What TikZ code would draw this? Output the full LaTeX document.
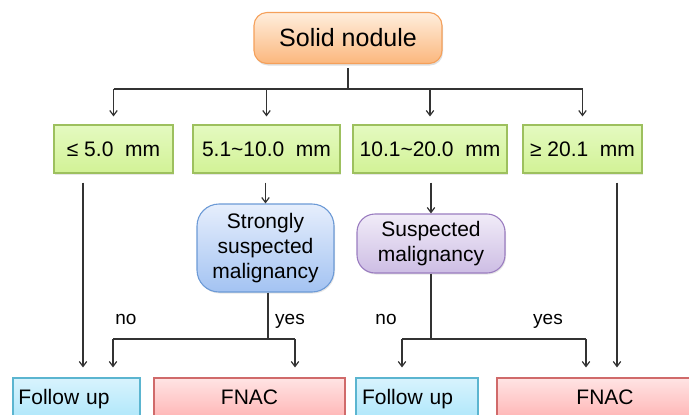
\documentclass[tikz,border=0pt]{standalone}
\usepackage{fontspec}
\setmainfont{Liberation Sans}
\usetikzlibrary{arrows.meta,shadows}
\definecolor{linec}{HTML}{333333}
\definecolor{orbd}{HTML}{F5A05A}
\definecolor{ortop}{HTML}{FFEEDD}
\definecolor{orbot}{HTML}{FBB77D}
\definecolor{grbd}{HTML}{9DC05E}
\definecolor{grtop}{HTML}{E4FAC0}
\definecolor{grbot}{HTML}{D2F296}
\definecolor{blbd}{HTML}{6C9AD6}
\definecolor{bltop}{HTML}{E6EEFC}
\definecolor{blbot}{HTML}{A3C3F2}
\definecolor{pubd}{HTML}{9A7CC0}
\definecolor{putop}{HTML}{F1ECF8}
\definecolor{pubot}{HTML}{CDBDE4}
\definecolor{cybd}{HTML}{5BB5D0}
\definecolor{cytop}{HTML}{D8F3FD}
\definecolor{cybot}{HTML}{B2E8FB}
\definecolor{rdbd}{HTML}{D06A6A}
\definecolor{rdtop}{HTML}{FFE4E4}
\definecolor{rdbot}{HTML}{FFB8B8}
\tikzset{
  base/.style={draw, line width=1.1bp, inner sep=0pt, text=black, font=\fontsize{21bp}{24bp}\selectfont},
  orbox/.style={base, draw=orbd, top color=ortop, bottom color=orbot, rounded corners=13bp,
     minimum width=188bp, minimum height=51bp, font=\fontsize{25bp}{28bp}\selectfont,
     drop shadow={shadow xshift=1bp, shadow yshift=-2bp, opacity=0.25}},
  grbox/.style={base, draw=grbd, top color=grtop, bottom color=grbot, minimum height=48bp,
     drop shadow={shadow xshift=1bp, shadow yshift=-1.5bp, opacity=0.2}},
  blbox/.style={base, draw=blbd, top color=bltop, bottom color=blbot, rounded corners=22bp,
     minimum width=137bp, minimum height=88bp, align=center,
     font=\fontsize{21bp}{25bp}\selectfont,
     drop shadow={shadow xshift=1bp, shadow yshift=-1.5bp, opacity=0.2}},
  pubox/.style={base, draw=pubd, top color=putop, bottom color=pubot, rounded corners=18bp,
     minimum width=148bp, minimum height=59bp, align=center,
     font=\fontsize{21bp}{25bp}\selectfont,
     drop shadow={shadow xshift=1bp, shadow yshift=-1.5bp, opacity=0.2}},
  cybox/.style={base, draw=cybd, top color=cytop, bottom color=cybot, minimum height=38bp, text depth=0pt},
  rdbox/.style={base, draw=rdbd, top color=rdtop, bottom color=rdbot, minimum height=38bp},
  conn/.style={draw=linec, line width=1.3bp},
  arr/.style={conn, -{Straight Barb[length=5bp,width=7.5bp,line width=1.2bp]}},
  lbl/.style={font=\fontsize{19bp}{22bp}\selectfont, inner sep=0pt, anchor=base}
}
\begin{document}
\begin{tikzpicture}[x=1bp,y=-1bp]
\useasboundingbox (0,0) rectangle (689,414);
% nodes
\node[orbox] (solid) at (348,38) {Solid nodule};
\node[grbox, minimum width=119bp] (g1) at (113.5,149) {≤ 5.0 \ mm};
\node[grbox, minimum width=147bp] (g2) at (266.5,149) {5.1\textasciitilde10.0 \ mm};
\node[grbox, minimum width=154bp] (g3) at (430,149) {10.1\textasciitilde20.0 \ mm};
\node[grbox, minimum width=119bp] (g4) at (582.5,149) {≥ 20.1 \ mm};
\node[blbox] (strong) at (265.5,248) {Strongly\\suspected\\malignancy};
\node[pubox] (susp) at (431,243.5) {Suspected\\malignancy};
\node[cybox, minimum width=127bp, text width=116bp, align=left] (fu1) at (76.5,397) {Follow up};
\node[rdbox, minimum width=191bp] (fn1) at (249.5,397) {FNAC};
\node[cybox, minimum width=122bp, text width=110bp, align=left] (fu2) at (417,397) {Follow up};
\node[rdbox, minimum width=216bp] (fn2) at (605,397) {FNAC};
% coordinates
\coordinate (hub) at (348,89);
\coordinate (x1) at (83,0);
\coordinate (x4) at (617,0);
\coordinate (s1) at (268,339);
\coordinate (s2) at (431,339);
\coordinate (ya) at (113,0);
\coordinate (yb) at (295,0);
\coordinate (yc) at (402,0);
\coordinate (yd) at (586,0);
% top distribution
\draw[conn] ([yshift=-4bp]solid.south) -- (hub);
\draw[conn] (hub -| g1.north) -- (hub -| g4.north);
\foreach \g in {g1,g2,g3,g4}{
  \draw[arr, shorten >=8bp] (hub -| \g.north) -- (\g.north);
}
% from size boxes
\draw[arr, shorten <=9bp, shorten >=10bp] (g1.south -| x1) -- (fu1.north -| x1);
\draw[arr, shorten <=9bp, shorten >=10bp] (g4.south -| x4) -- (fn2.north -| x4);
\draw[arr, shorten <=9bp] (g2.south -| strong.north) -- (strong.north);
\draw[arr, shorten <=9bp] (g3.south -| susp.north) -- (susp.north);
% strongly suspected branch
\draw[conn] (strong.south -| s1) -- (s1);
\draw[conn] (s1 -| ya) -- (s1 -| yb);
\draw[arr, shorten >=10bp] (s1 -| ya) -- (fu1.north -| ya);
\draw[arr, shorten >=10bp] (s1 -| yb) -- (fn1.north -| yb);
% suspected branch
\draw[conn] (susp.south) -- (s2);
\draw[conn] (s2 -| yc) -- (s2 -| yd);
\draw[arr, shorten >=10bp] (s2 -| yc) -- (fu2.north -| yc);
\draw[arr, shorten >=10bp] (s2 -| yd) -- (fn2.north -| yd);
% labels
\node[lbl] (no1) at (126,324) {no};
\node[lbl] (yes1) at (290,324) {yes};
\node[lbl] (no2) at (386,324) {no};
\node[lbl] (yes2) at (548,324) {yes};
\end{tikzpicture}
\end{document}
